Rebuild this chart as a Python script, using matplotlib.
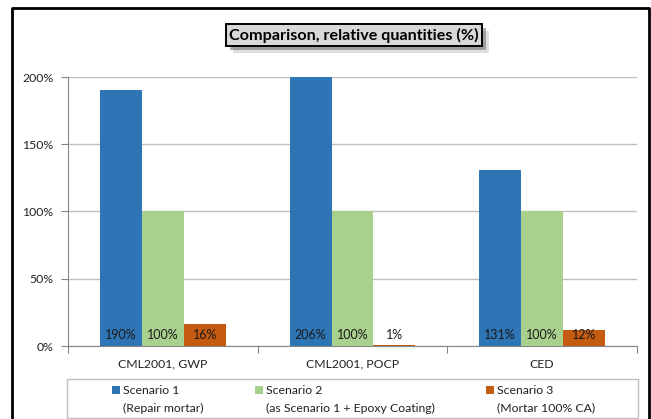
import numpy as np
import matplotlib.pyplot as plt
import matplotlib.patheffects as pe
from matplotlib.patches import Rectangle
from matplotlib.lines import Line2D

plt.rcParams['font.family'] = ['Lato', 'DejaVu Sans']

categories = ['CML2001, GWP', 'CML2001, POCP', 'CED']
scenario_1 = [190, 206, 131]
scenario_2 = [100, 100, 100]
scenario_3 = [16, 1, 12]
series_names = ['Scenario 1', 'Scenario 2', 'Scenario 3']
series_notes = ['(Repair mortar)', '(as Scenario 1 + Epoxy Coating)', '(Mortar 100% CA)']
colors = ['#2E75B6', '#A9D18E', '#C55A11']
y_ticks = [0, 50, 100, 150, 200]

W, H = 651, 419
fig = plt.figure(figsize=(W / 100, H / 100), dpi=100)


def fx(px):
    return px / W


def fy(py):
    return 1 - py / H


ax = fig.add_axes([fx(68), fy(346), fx(637 - 68), fy(77) - fy(346)])

x = np.arange(len(categories))
width = 0.221
series = [scenario_1, scenario_2, scenario_3]
for i, vals in enumerate(series):
    pos = x + (i - 1) * width
    ax.bar(pos, vals, width, color=colors[i], zorder=2)
    for xp, v in zip(pos, vals):
        ax.annotate(f'{v}%', xy=(xp, 0), xytext=(0, 8), textcoords='offset points',
                    ha='center', va='center', fontsize=9, color='#1a1a1a', zorder=3)

ax.set_ylim(0, 200)
ax.set_xlim(-0.5, len(categories) - 0.5)
ax.set_yticks(y_ticks)
ax.set_yticklabels([f'{t}%' for t in y_ticks], fontsize=8.8, color='#222222')
ax.yaxis.grid(True, color='#bfbfbf', lw=1, zorder=0)
ax.set_axisbelow(True)

ax.set_xticks(np.arange(-0.5, len(categories), 1.0))
ax.set_xticklabels([])
ax.set_xticks(x, minor=True)
ax.set_xticklabels(categories, minor=True, fontsize=8.8, color='#222222')
ax.tick_params(axis='x', which='minor', length=0, pad=9)
ax.tick_params(axis='x', which='major', length=5, color='#868686')
ax.tick_params(axis='y', length=5, color='#868686', pad=5.5)

for s in ['top', 'right']:
    ax.spines[s].set_visible(False)
for s in ['left', 'bottom']:
    ax.spines[s].set_color('#868686')

# title box with shadow
t = fig.text(fx(354), fy(35), 'Comparison, relative quantities (%)', ha='center', va='center',
             fontsize=11.6, fontweight='bold', color='black',
             bbox=dict(boxstyle='square,pad=0.2', facecolor='#d9d9d9', edgecolor='black', lw=1.4))
t.get_bbox_patch().set_path_effects([
    pe.SimplePatchShadow(offset=(5, -5), shadow_rgbFace='#808080', alpha=0.25),
    pe.SimplePatchShadow(offset=(3, -3), shadow_rgbFace='#404040', alpha=0.4),
    pe.Normal()])

# legend box
fig.patches.append(Rectangle((fx(67), fy(418)), fx(638 - 67), fy(379) - fy(418),
                             transform=fig.transFigure, fill=False, edgecolor='#bfbfbf', lw=1))
sq_x = [112, 255, 486]
for i in range(len(series_names)):
    fig.patches.append(Rectangle((fx(sq_x[i]), fy(394)), fx(8), fy(386) - fy(394),
                                 transform=fig.transFigure, facecolor=colors[i], edgecolor='none'))
    fig.text(fx(sq_x[i] + 11), fy(390), series_names[i], ha='left', va='center',
             fontsize=8.8, color='#222222')
    fig.text(fx(sq_x[i] + 11), fy(408), series_notes[i], ha='left', va='center',
             fontsize=8.8, color='#222222')

# outer frame
frame_x = [fx(12), fx(12), fx(649), fx(649)]
frame_y = [0, fy(8), fy(8), 0]
fig.lines.append(Line2D(frame_x, frame_y, transform=fig.transFigure, color='black', lw=2))

fig.savefig('out.png', dpi=100)
